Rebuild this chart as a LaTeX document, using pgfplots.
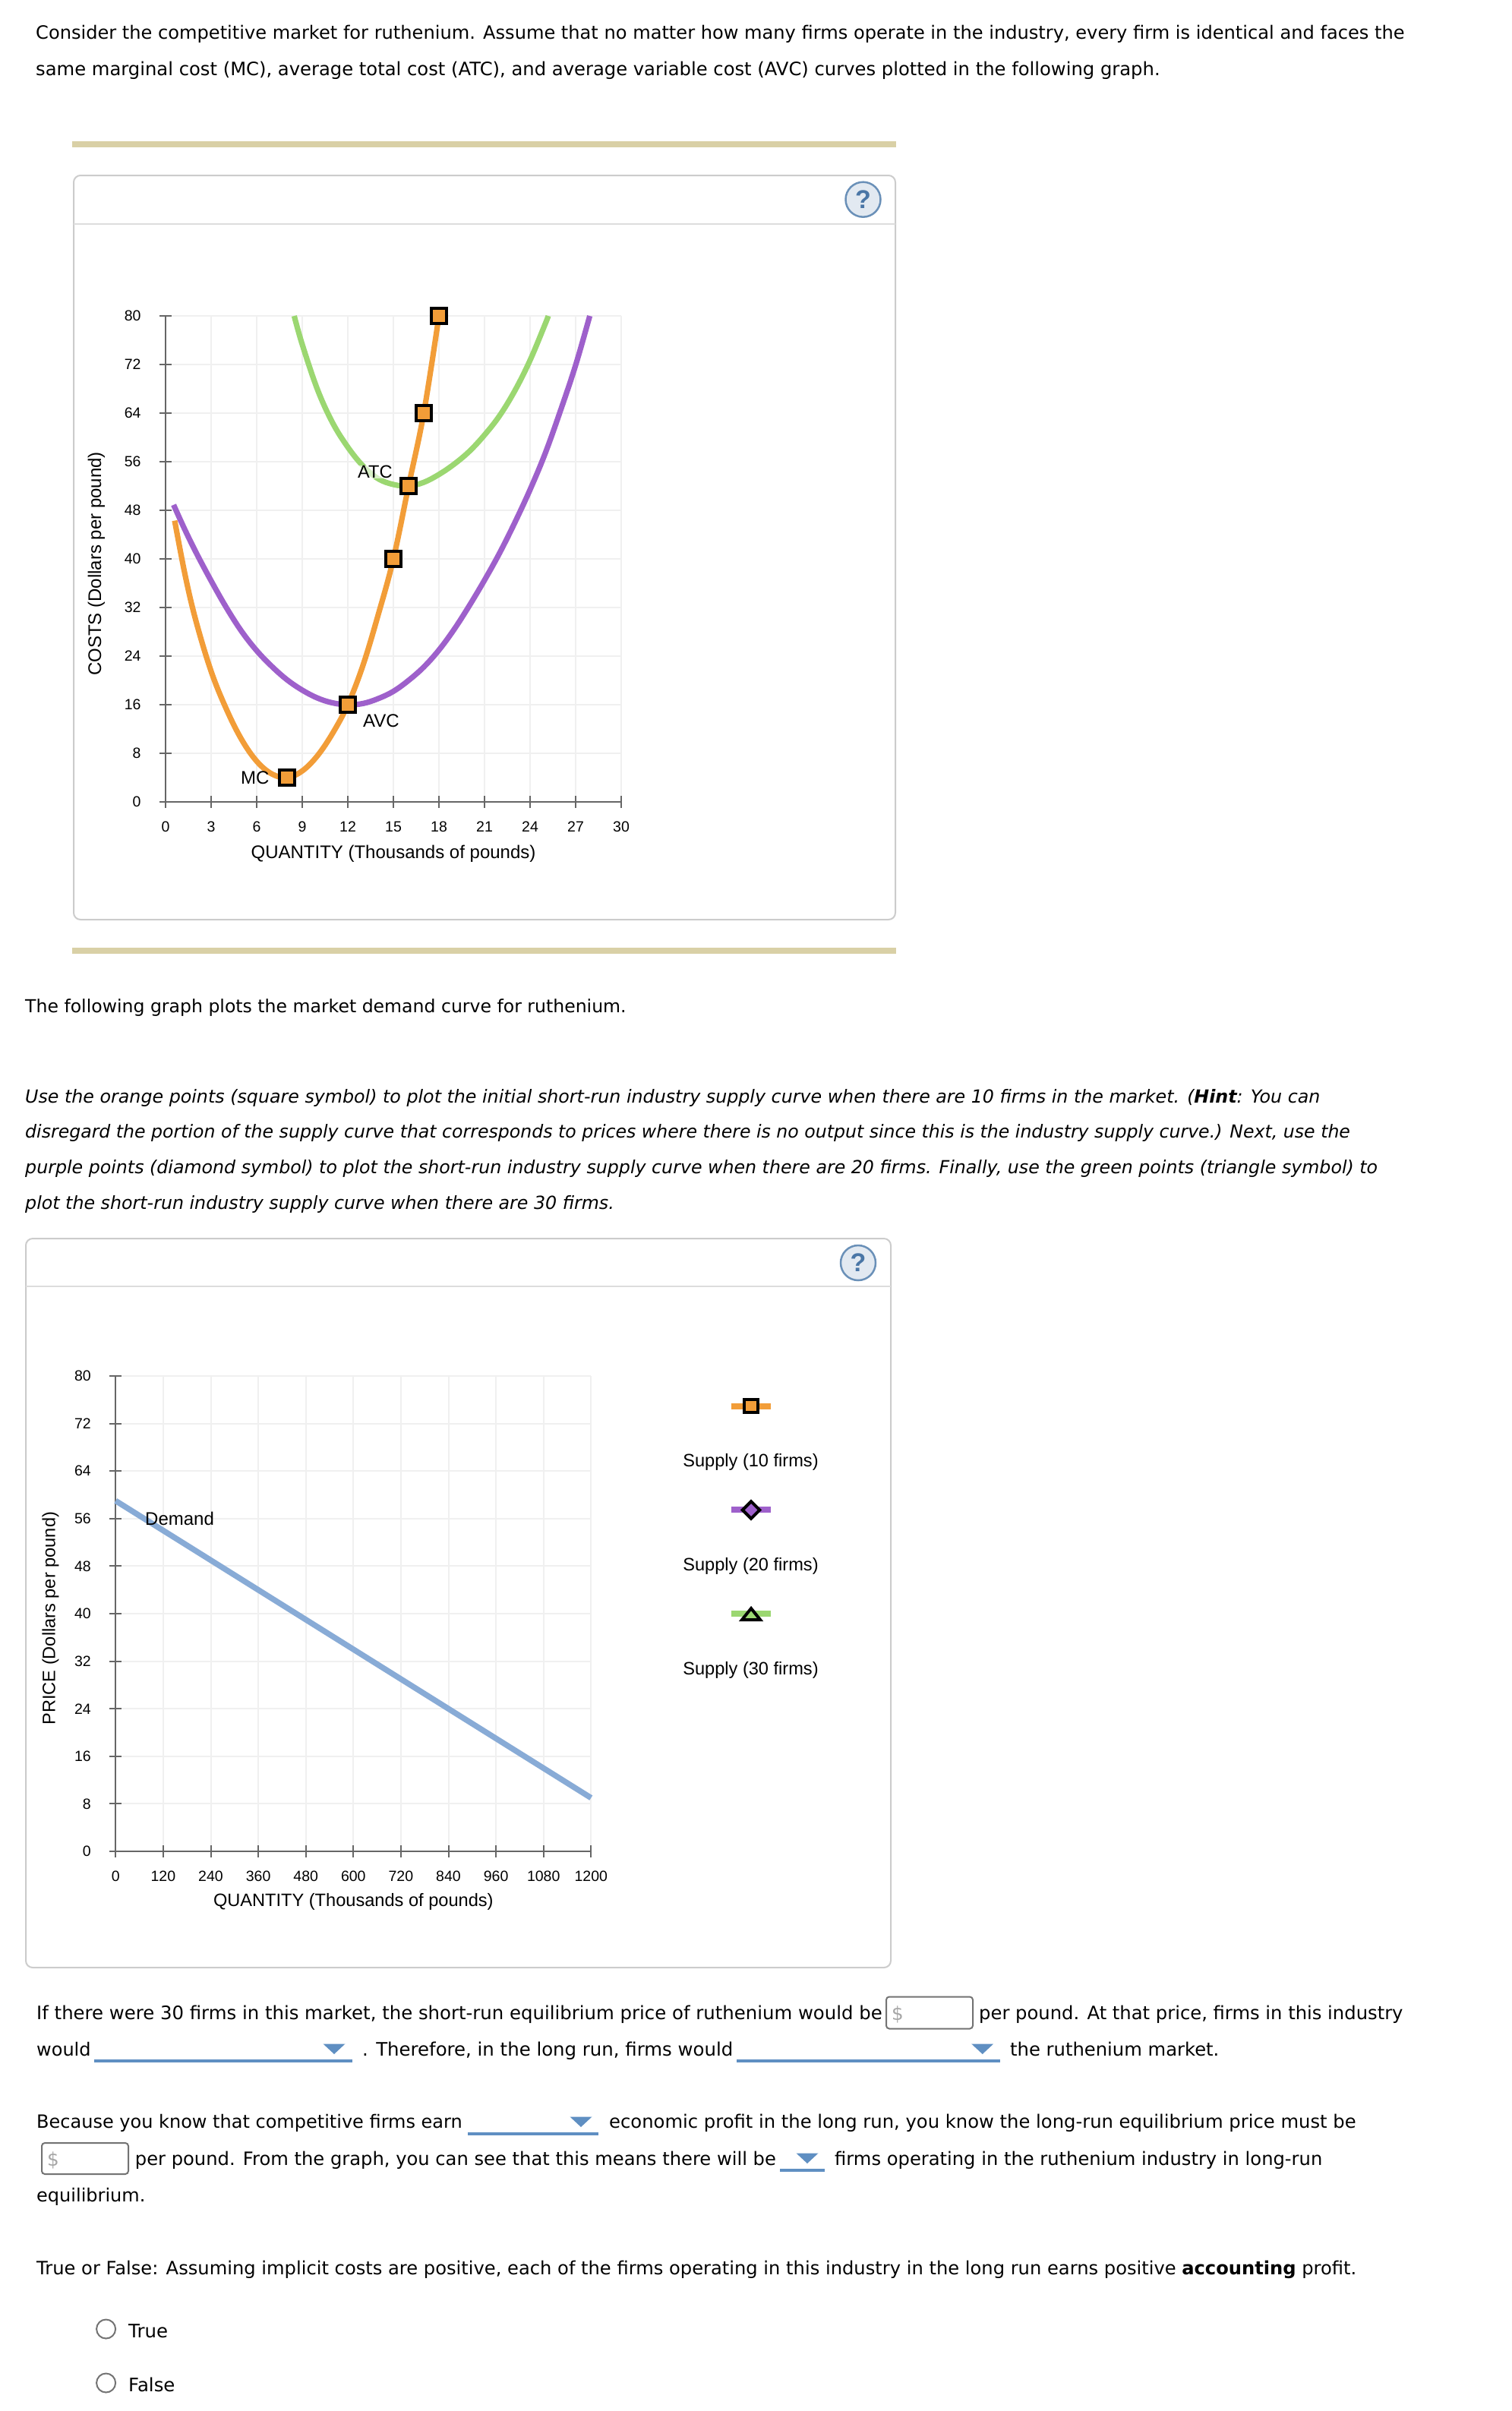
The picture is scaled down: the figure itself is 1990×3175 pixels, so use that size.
\documentclass[border=0pt]{standalone}
\usepackage{fontspec}
\setmainfont{DejaVu Sans}
\newfontfamily\arial{Liberation Sans}
\usepackage{pgfplots}
\pgfplotsset{compat=1.18}
\definecolor{mcor}{HTML}{F29D38}
\definecolor{avcp}{HTML}{9E60CB}
\definecolor{atcg}{HTML}{9BD771}
\definecolor{dem}{HTML}{88ABD6}
\definecolor{drop}{HTML}{5F8FC2}
\definecolor{axg}{HTML}{666666}
\definecolor{grd}{HTML}{F0F0F0}
\definecolor{pan}{HTML}{CCCCCC}
\definecolor{hdr}{HTML}{DDDDDD}
\definecolor{beige}{HTML}{D9D0A6}
\definecolor{helpf}{HTML}{E2E9F1}
\definecolor{helps}{HTML}{6A90B8}
\definecolor{helpq}{HTML}{4A76A6}
% #1 = font size, so each line takes the reference's width
\newcommand{\T}[4]{\node[anchor=base west,inner sep=0pt,font=\fontsize{#1}{30}\selectfont] at (#2,#3) {#4};}
\newcommand{\LL}[3]{\node[anchor=base west,inner sep=0pt,font=\arial\fontsize{24}{28}\selectfont] at (#1,#2) {#3};}
\newcommand{\help}[2]{\draw[color=helps,line width=2.5pt,fill=helpf] (#1,#2) circle (23);
  \node[inner sep=0pt,font=\arial\bfseries\fontsize{34}{40}\selectfont,text=helpq] at (#1,#2) {?};}
\newcommand{\inbox}[4]{\draw[color=black!55,line width=2pt,rounded corners=4pt,fill=white] (#1,#2) rectangle (#3,#4);}
\newcommand{\dd}[4]{\fill[drop] (#1,#3-2) rectangle (#2,#3+2);
  \fill[drop] (#4-14.5,#3-22.5) -- (#4+14.5,#3-22.5) -- (#4,#3-9) -- cycle;}
\pgfplotsset{econ/.style={
  scale only axis, axis lines=left, axis line style={-,color=axg,line width=2pt},
  grid=major, grid style={color=grd,line width=2pt},
  major tick length=16pt, tick align=center,
  tick style={color=axg,line width=2pt},
  ymin=0,ymax=80,ytick={0,8,...,80},
  clip=false,
  /pgf/number format/assume math mode=true,
  /pgf/number format/1000 sep={},
  tick label style={font=\arial\fontsize{19.5}{22}\selectfont,text=black},
  label style={font=\arial\fontsize{24}{28}\selectfont,text=black,inner sep=0pt},
  xticklabel style={anchor=center,yshift=-25pt},
  yticklabel style={anchor=east,xshift=-21pt},
}}
\begin{document}
\begin{tikzpicture}
\path[use as bounding box] (0pt,0pt) rectangle (1990pt,-3175pt);
\begin{scope}[x=1pt,y=-1pt]
\fill[white] (0,0) rectangle (1990,3175);
\T{24.1}{47}{51}{Consider the competitive market for ruthenium. Assume that no matter how many firms operate in the industry, every firm is identical and faces the}
\T{24.25}{47}{99.5}{same marginal cost (MC), average total cost (ATC), and average variable cost (AVC) curves plotted in the following graph.}
\fill[beige] (95,186) rectangle (1180,194);
\draw[pan,line width=2pt,rounded corners=9pt] (97,231) rectangle (1179,1211);
\draw[hdr,line width=2pt] (97,295) -- (1179,295);
\help{1136.5}{262.7}
\fill[beige] (95,1248) rectangle (1180,1256);
\T{23.57}{33}{1333.5}{The following graph plots the market demand curve for ruthenium.}
\T{23.75}{33}{1452}{\itshape Use the orange points (square symbol) to plot the initial short-run industry supply curve when there are 10 firms in the market. ({\bfseries Hint}: You can}
\T{23.62}{33}{1498.5}{\itshape disregard the portion of the supply curve that corresponds to prices where there is no output since this is the industry supply curve.) Next, use the}
\T{23.71}{33}{1545.5}{\itshape purple points (diamond symbol) to plot the short-run industry supply curve when there are 20 firms. Finally, use the green points (triangle symbol) to}
\T{23.73}{33}{1592.5}{\itshape plot the short-run industry supply curve when there are 30 firms.}
\draw[pan,line width=2pt,rounded corners=9pt] (34,1631) rectangle (1173,2591);
\draw[hdr,line width=2pt] (34,1694) -- (1173,1694);
\help{1130}{1663}
\T{24.38}{48}{2659}{If there were 30 firms in this market, the short-run equilibrium price of ruthenium would be}
\inbox{1167}{2629.5}{1281}{2671.5}
\node[anchor=base west,inner sep=0pt,font=\fontsize{24.6}{30}\selectfont,text=black!35] at (1174,2660) {\$};
\T{24.25}{1289}{2659}{per pound. At that price, firms in this industry}
\T{24}{48}{2707}{would}
\dd{124}{464}{2714}{440}
\T{24.4}{477}{2707}{. Therefore, in the long run, firms would}
\dd{969.5}{1317}{2714}{1293.7}
\T{24.25}{1330}{2707}{the ruthenium market.}
\T{24}{48}{2802}{Because you know that competitive firms earn}
\dd{615.5}{788}{2810}{765}
\T{24.25}{802}{2802}{economic profit in the long run, you know the long-run equilibrium price must be}
\inbox{55}{2822}{169}{2863}
\node[anchor=base west,inner sep=0pt,font=\fontsize{24.6}{30}\selectfont,text=black!35] at (62,2852) {\$};
\T{24.2}{177.7}{2851}{per pound. From the graph, you can see that this means there will be}
\dd{1026.7}{1086}{2858}{1063}
\T{24.2}{1099}{2851}{firms operating in the ruthenium industry in long-run}
\T{24}{48}{2899.5}{equilibrium.}
\T{24.18}{48}{2995}{True or False: Assuming implicit costs are positive, each of the firms operating in this industry in the long run earns positive {\bfseries accounting} profit.}
\draw[black!55,line width=2pt] (139.6,3067) circle (12.5);
\T{24.4}{169}{3078}{True}
\draw[black!55,line width=2pt] (139.6,3138) circle (12.5);
\T{24.4}{169}{3149}{False}
\end{scope}

\begin{axis}[econ, width=600pt, height=640pt, at={(218pt,-1056pt)}, anchor=south west,
  xmin=0,xmax=30,xtick={0,3,...,30},
  xlabel={QUANTITY (Thousands of pounds)},
  ylabel={COSTS (Dollars per pound)},
  xlabel style={at={(axis description cs:0.5,-0.1067)},anchor=center},
  ylabel style={at={(axis description cs:-0.152,0.49)},anchor=center},
]
\addplot[color=atcg,line width=7.2pt,smooth,tension=0.6] coordinates {
 (8.47,80)(9,75.3)(10,67.9)(11,62.4)(12,58.4)(13,55.3)(14,53.2)(15,52.25)(16,52)(17,52.6)(18,53.9)(19,55.6)(20,57.7)(21,60.4)(22,63.6)(23,67.7)(24,72.7)(25,78.7)(25.2,80)};
\addplot[color=avcp,line width=7.2pt,smooth,tension=0.6] coordinates {
 (0.53,48.9)(1.2,45.2)(2,41.1)(3,36.4)(4,32)(5,28.1)(6,24.9)(7,22.3)(8,20.1)(9,18.4)(10,17.1)(11,16.3)(12,16)(13,16.2)(14,17)(15,18.2)(16,20)(17,22.2)(18,25)(19,28.4)(20,32.3)(21,36.5)(22,41)(23,46)(24,51.4)(25,57.4)(26,64.4)(27,71.9)(27.93,80)};
\addplot[color=mcor,line width=7.2pt,smooth,tension=0.6] coordinates {
 (0.6,46.3)(1.3,37.2)(2,29.8)(3,21.5)(4,15.3)(5,10.3)(6,6.7)(7,4.6)(8,4)(9,5.1)(10,7.6)(11,11.3)(12,16)(13,22.5)(14,30.8)(15,40)(16,52)(17,64)(18,80)};
\addplot[only marks,mark=square*,mark size=10pt,mark options={draw=black,fill=mcor,line width=4pt}] coordinates {
 (8,4)(12,16)(15,40)(16,52)(17,64)(18,80)};
\end{axis}

\begin{axis}[econ, width=626pt, height=626pt, at={(152.3pt,-2438pt)}, anchor=south west,
  xmin=0,xmax=1200,xtick={0,120,...,1200},
  xlabel={QUANTITY (Thousands of pounds)},
  ylabel={PRICE (Dollars per pound)},
  label style={font=\arial\fontsize{23.6}{28}\selectfont},
  xlabel style={at={(axis description cs:0.5,-0.1068)},anchor=center},
  ylabel style={at={(axis description cs:-0.137,0.49)},anchor=center},
]
\addplot[color=dem,line width=7.5pt] coordinates {(0,59)(1200,9)};
\addplot[color=mcor,line width=8pt] coordinates {(1554,74.95)(1654,74.95)};
\addplot[only marks,mark=square*,mark size=8.9pt,mark options={draw=black,fill=mcor,line width=4pt}] coordinates {(1604,74.95)};
\addplot[color=avcp,line width=8pt] coordinates {(1554,57.45)(1654,57.45)};
\addplot[only marks,mark=square*,mark size=8pt,mark options={rotate=45,draw=black,fill=avcp,line width=4pt}] coordinates {(1604,57.45)};
\addplot[color=atcg,line width=8pt] coordinates {(1554,40)(1654,40)};
\addplot[only marks,mark=triangle*,mark size=14pt,mark options={yscale=0.72,draw=black,fill=atcg,line width=4pt}] coordinates {(1604,39.6)};
\end{axis}

\begin{scope}[x=1pt,y=-1pt]
\node[anchor=base west,inner sep=0pt,font=\arial\fontsize{23.6}{28}\selectfont,fill=white,fill opacity=0.6,text opacity=1] at (471,629.5) {ATC};
\LL{478}{957}{AVC}
\LL{317}{1032}{MC}
\LL{191}{2008}{Demand}
\foreach \y/\n in {1931/10,2068/20,2205/30}{
 \node[anchor=base,inner sep=0pt,font=\arial\fontsize{23.6}{28}\selectfont] at (988.5,\y) {Supply (\n\ firms)};}
\end{scope}
\end{tikzpicture}
\end{document}
